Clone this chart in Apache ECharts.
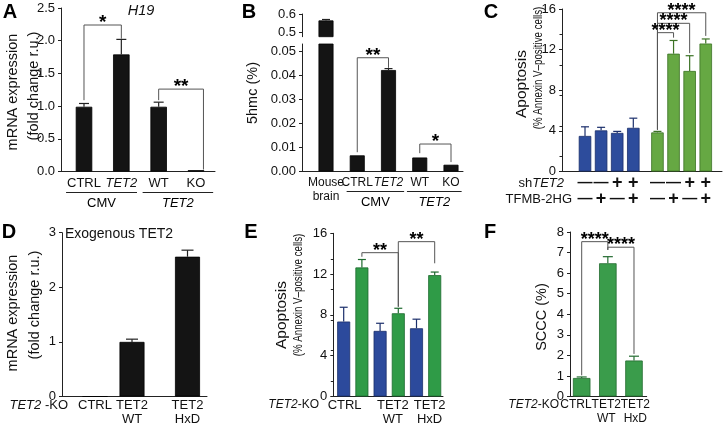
<!DOCTYPE html>
<html><head><meta charset="utf-8">
<script src="https://cdn.jsdelivr.net/npm/echarts@6/dist/echarts.min.js"></script>
<style>html,body{margin:0;padding:0;background:#fff}#c{width:724px;height:440px}</style>
</head><body><div id="c"></div>
<script>
// ---------------- DATA ----------------
// Panel A: H19 mRNA expression
const A_cats = ['CTRL', 'TET2', 'WT', 'KO'];
const A_vals = [0.99, 1.79, 0.99, 0.02];
const A_errTop = [1.04, 2.02, 1.06, 0.02];
const A_groups = [['CMV', -0.48, 1.42], ['TET2', 1.57, 3.46]];
const A_sig = [['*', 0, 1, 2.24, 1.09, 2.03], ['**', 2, 3.2, 1.26, 1.09, 0.03]];
const A_yTicks = [0, 0.5, 1.0, 1.5, 2.0, 2.5];

// Panel B: 5hmc (%)
const B_cats = ['Mouse\nbrain', 'CTRL', 'TET2', 'WT', 'KO'];
const B_vals = [0.565, 0.0067, 0.0421, 0.0058, 0.0028];
const B_errTop = [0.57, 0.0067, 0.0427, 0.0058, 0.0028];
const B_groups = [['CMV', 0.66, 2.5], ['TET2', 2.59, 4.34]];
const B_sig = [['**', 1, 2, 0.0472, 0.008, 0.043], ['*', 3, 4, 0.0114, 0.0076, 0.0039]];
const B_lowTicks = [0, 0.01, 0.02, 0.03, 0.04, 0.05];
const B_upTicks = [0.5, 0.6];

// Panel C: Apoptosis
const C_shTET2 = ['-', '-', '+', '+', '-', '-', '+', '+'];
const C_tfmb = ['-', '+', '-', '+', '-', '+', '-', '+'];
const C_vals = [3.5, 4.05, 3.8, 4.3, 3.85, 11.6, 9.9, 12.6];
const C_errTop = [4.4, 4.35, 3.95, 5.25, 3.95, 12.9, 11.4, 13.05];
const C_colorGroup = ['blue', 'blue', 'blue', 'blue', 'green', 'green', 'green', 'green'];
const C_sig = [['****', 4, 7, 15.63, 4.12, 13.35], ['****', 4, 6, 14.59, 4.12, 11.65], ['****', 4, 5, 13.67, 4.12, 13.18]];
const C_yTicks = [0, 4, 8, 12, 16];

// Panel D: Exogenous TET2
const D_cats = ['CTRL', 'TET2\nWT', 'TET2\nHxD'];
const D_vals = [0, 1.0, 2.56];
const D_errTop = [0, 1.05, 2.68];
const D_yTicks = [0, 1, 2, 3];

// Panel E: Apoptosis
const E_cats = ['CTRL', 'TET2\nWT', 'TET2\nHxD'];
const E_blue = [7.35, 6.43, 6.69];
const E_blueErrTop = [8.75, 7.18, 7.58];
const E_green = [12.65, 8.16, 11.9];
const E_greenErrTop = [13.43, 8.65, 12.2];
const E_sig = [['**', 1, 3, 14.1, 13.7, 8.8], ['**', 3, 5, 15.18, 8.8, 13.06]];
const E_yTicks = [0, 4, 8, 12, 16];

// Panel F: SCCC (%)
const F_cats = ['CTRL', 'TET2\nWT', 'TET2\nHxD'];
const F_vals = [0.9, 6.48, 1.75];
const F_errTop = [0.95, 6.8, 1.96];
const F_sig = [['****', 0, 1, 7.53, 1.03, 7.13], ['****', 1, 2, 7.26, 7.13, 2.07]];
const F_yTicks = [0, 1, 2, 3, 4, 5, 6, 7, 8];

// ---------------- LAYOUT / STYLE ----------------
const FONT = '"Liberation Sans", Arial, Helvetica, sans-serif';
const AXIS = '#222';
const TXT = '#111';
const BLACK = '#141414';
const BLUE_C = '#2d4c9c', BLUE_C_D = '#1b2f6b';
const GREEN_C = '#66a843', GREEN_C_D = '#3b7224';
const BLUE_E = '#2c4a9c', BLUE_E_D = '#1b2f6b';
const GREEN_E = '#2f9b47', GREEN_E_D = '#1d6a2e';
const GREEN_F = '#3a9c4b', GREEN_F_D = '#236b30';

const LAY = {
  A:  {left: 61, top: 8, width: 154, height: 163.5, xmin: -0.616, xmax: 3.509, barW: 16.5, cap: 5},
  Bu: {left: 302, top: 14, width: 161, height: 22.7, xmin: -0.768, xmax: 4.384, barW: 15, cap: 4},
  Bl: {left: 302, top: 44, width: 161, height: 127.5, xmin: -0.768, xmax: 4.384, barW: 15, cap: 4},
  C:  {left: 562, top: 9, width: 160, height: 162.5, xmin: -1.429, xmax: 8.509, barW: 12.5, cap: 4},
  D:  {left: 62, top: 232.7, width: 145, height: 163.8, xmin: -0.892, xmax: 3.027, barW: 25, cap: 6},
  E:  {left: 333.3, top: 233.3, width: 109.7, height: 163.2, xmin: -0.571, xmax: 5.456, barW: 13, cap: 4},
  F:  {left: 570, top: 232, width: 76.7, height: 164.5, xmin: -0.447, xmax: 2.486, barW: 17.5, cap: 5}
};
const cPos = i => i + (i >= 4 ? 0.5 : 0);
const D_pos = [0, 1, 2.5];
const E_labelPos = [0.05, 2.7, 4.72];
const F_labelPos = [-0.22, 0.94, 2.05];

function richSet(size, lh) {
  return {
    n: {fontSize: size, fontFamily: FONT, color: TXT, lineHeight: lh},
    i: {fontSize: size, fontFamily: FONT, color: TXT, fontStyle: 'italic', lineHeight: lh},
    m: {fontSize: 15, fontFamily: FONT, color: TXT, fontWeight: 'bold', lineHeight: 16},
    p: {fontSize: 18, fontFamily: FONT, color: TXT, fontWeight: 'bold', lineHeight: 16}
  };
}
const RICH = richSet(13, 14);
const RICH12 = richSet(12, 13.5);
const gene = s => s.split('\n').map(l => l === 'TET2' ? '{i|TET2}' : '{n|' + l + '}').join('\n');
const plain = s => s.split('\n').map(l => '{n|' + l + '}').join('\n');

const grids = [], xAxes = [], yAxes = [], series = [], graphics = [];

function addPanel(L, yOpt) {
  const gi = grids.length;
  grids.push({left: L.left, top: L.top, width: L.width, height: L.height, containLabel: false});
  xAxes.push({
    type: 'value', gridIndex: gi, min: L.xmin, max: L.xmax,
    axisLine: {show: !yOpt.hideX, onZero: false, lineStyle: {color: AXIS, width: 1}},
    axisTick: {show: false}, splitLine: {show: false},
    axisLabel: {show: false}
  });
  yAxes.push({
    type: 'value', gridIndex: gi, min: yOpt.min, max: yOpt.max,
    axisLine: {show: true, onZero: false, lineStyle: {color: AXIS, width: 1}},
    axisTick: {show: true, length: 3, lineStyle: {color: AXIS}, customValues: yOpt.ticks},
    minorTick: {show: !!yOpt.minor, splitNumber: 2, length: 2.5, lineStyle: {color: AXIS}},
    splitLine: {show: false},
    axisLabel: {
      customValues: yOpt.ticks, fontSize: 13, fontFamily: FONT, color: TXT, margin: 6,
      showMinLabel: true, showMaxLabel: true,
      formatter: v => yOpt.fmt(v)
    }
  });
  return gi;
}

// category labels drawn under the axis at the axis' own data positions
function xLabels(gi, yBase, positions, texts, offY, rich) {
  series.push({
    type: 'custom', xAxisIndex: gi, yAxisIndex: gi, clip: false, silent: true,
    data: positions.map(p => [p, yBase]),
    renderItem(params, api) {
      const p = api.coord([api.value(0), api.value(1)]);
      return {type: 'text', x: p[0], y: p[1] + offY, style: {
        text: texts[params.dataIndex], rich: rich || RICH, font: '13px ' + FONT, fill: TXT,
        align: 'center', verticalAlign: 'top', textAlign: 'center', textVerticalAlign: 'top'}};
    }
  });
}

function bars(gi, L, xs, vals, colors, borders) {
  series.push({
    type: 'bar', xAxisIndex: gi, yAxisIndex: gi, barWidth: L.barW, silent: true,
    data: xs.map((x, k) => ({value: [x, vals[k]], itemStyle: {color: colors[k], borderColor: borders[k], borderWidth: 0.8}}))
  });
}

function errs(gi, L, xs, vals, tops, colors) {
  series.push({
    type: 'custom', xAxisIndex: gi, yAxisIndex: gi, clip: false, silent: true, z: 5,
    data: xs.map((x, k) => [x, vals[k], tops[k]]),
    renderItem(params, api) {
      const k = params.dataIndex;
      if (api.value(2) <= api.value(1)) return null;
      const p0 = api.coord([api.value(0), api.value(1)]);
      const p1 = api.coord([api.value(0), api.value(2)]);
      const c = colors[k];
      return {type: 'group', children: [
        {type: 'line', shape: {x1: p0[0], y1: p0[1], x2: p1[0], y2: p1[1]}, style: {stroke: c, lineWidth: 1.2}},
        {type: 'line', shape: {x1: p1[0] - L.cap, y1: p1[1], x2: p1[0] + L.cap, y2: p1[1]}, style: {stroke: c, lineWidth: 1.2}}
      ]};
    }
  });
}

function sigs(gi, list, posFn, starSize) {
  series.push({
    type: 'custom', xAxisIndex: gi, yAxisIndex: gi, clip: false, silent: true, z: 6,
    data: list.map(s => [posFn(s[1]), posFn(s[2]), s[3], s[4], s[5]]),
    renderItem(params, api) {
      const s = list[params.dataIndex];
      const x1 = api.value(0), x2 = api.value(1), y = api.value(2);
      const p1 = api.coord([x1, api.value(3)]), p2 = api.coord([x1, y]);
      const p3 = api.coord([x2, y]), p4 = api.coord([x2, api.value(4)]);
      return {type: 'group', children: [
        {type: 'polyline', shape: {points: [p1, p2, p3, p4]}, style: {stroke: '#555', lineWidth: 1, fill: null}},
        {type: 'text', x: (p2[0] + p3[0]) / 2, y: p2[1] - 2, style: {
          text: s[0], font: 'bold ' + starSize + 'px ' + FONT, fill: '#000',
          align: 'center', verticalAlign: 'middle', textAlign: 'center', textVerticalAlign: 'middle'}}
      ]};
    }
  });
}

function groupsUnder(gi, list, lineOff, textOff) {
  series.push({
    type: 'custom', xAxisIndex: gi, yAxisIndex: gi, clip: false, silent: true,
    data: list.map(g => [g[1], g[2]]),
    renderItem(params, api) {
      const g = list[params.dataIndex];
      const a = api.coord([api.value(0), 0]), b = api.coord([api.value(1), 0]);
      return {type: 'group', children: [
        {type: 'line', shape: {x1: a[0], y1: a[1] + lineOff, x2: b[0], y2: b[1] + lineOff}, style: {stroke: '#222', lineWidth: 1}},
        {type: 'text', x: (a[0] + b[0]) / 2, y: a[1] + textOff, style: {
          text: gene(g[0]), rich: RICH, align: 'center', verticalAlign: 'middle', textAlign: 'center', textVerticalAlign: 'middle'}}
      ]};
    }
  });
}

function txt(x, y, text, font, extra) {
  graphics.push({type: 'text', x, y, silent: true, style: Object.assign({
    text, font, fill: TXT, align: 'center', verticalAlign: 'middle', textAlign: 'center', textVerticalAlign: 'middle'}, extra || {})});
}
function vtxt(x, y, text, size, scaleX) {
  graphics.push({type: 'text', x, y, rotation: Math.PI / 2, scaleX: scaleX || 1, silent: true, style: {
    text, font: size + 'px ' + FONT, fill: TXT, align: 'center', verticalAlign: 'middle', textAlign: 'center', textVerticalAlign: 'middle'}});
}

// ---------------- PANEL A ----------------
const aX = A_cats.map((c, i) => i);
const gA = addPanel(LAY.A, {min: 0, max: 2.5, ticks: A_yTicks, fmt: v => v.toFixed(1)});
bars(gA, LAY.A, aX, A_vals, aX.map(() => BLACK), aX.map(() => '#000'));
errs(gA, LAY.A, aX, A_vals, A_errTop, aX.map(() => '#222'));
sigs(gA, A_sig, v => v, 19);
xLabels(gA, 0, aX, A_cats.map(gene), 4.5);
groupsUnder(gA, A_groups, 21, 32);

// ---------------- PANEL B ----------------
const bX = B_cats.map((c, i) => i);
const gBu = addPanel(LAY.Bu, {min: 0.476, max: 0.6, ticks: B_upTicks, fmt: v => v.toFixed(1), hideX: true});
bars(gBu, LAY.Bu, [0], [B_vals[0]], [BLACK], ['#000']);
errs(gBu, LAY.Bu, [0], [B_vals[0]], [B_errTop[0]], ['#222']);
const gBl = addPanel(LAY.Bl, {min: 0, max: 0.0529, ticks: B_lowTicks, fmt: v => v.toFixed(2)});
bars(gBl, LAY.Bl, bX, B_vals, bX.map(() => BLACK), bX.map(() => '#000'));
errs(gBl, LAY.Bl, bX.slice(1), B_vals.slice(1), B_errTop.slice(1), bX.map(() => '#222'));
sigs(gBl, B_sig, v => v, 19);
xLabels(gBl, 0, bX, B_cats.map(gene), 4.5, RICH12);
groupsUnder(gBl, B_groups, 20, 31);

// ---------------- PANEL C ----------------
const cX = C_vals.map((v, i) => cPos(i));
const sign = s => s === '+' ? '{p|+}' : '{m|—}';
const gC = addPanel(LAY.C, {min: 0, max: 16, ticks: C_yTicks, fmt: v => String(v), minor: true});
bars(gC, LAY.C, cX, C_vals, C_colorGroup.map(g => g === 'blue' ? BLUE_C : GREEN_C), C_colorGroup.map(g => g === 'blue' ? BLUE_C_D : GREEN_C_D));
errs(gC, LAY.C, cX, C_vals, C_errTop, C_colorGroup.map(g => g === 'blue' ? BLUE_C_D : GREEN_C_D));
sigs(gC, C_sig, cPos, 18);
xLabels(gC, 0, cX, C_vals.map((v, i) => sign(C_shTET2[i]) + '\n' + sign(C_tfmb[i])), 3.5);

// ---------------- PANEL D ----------------
const gD = addPanel(LAY.D, {min: 0, max: 3, ticks: D_yTicks, fmt: v => String(v)});
bars(gD, LAY.D, D_pos, D_vals, D_pos.map(() => BLACK), D_pos.map(() => '#000'));
errs(gD, LAY.D, D_pos, D_vals, D_errTop, D_pos.map(() => '#222'));
xLabels(gD, 0, D_pos, D_cats.map(plain), 1.5);

// ---------------- PANEL E ----------------
const eX = [0, 1, 2, 3, 4, 5];
const eVals = [], eTops = [], eCol = [], eColD = [];
E_cats.forEach((c, i) => {
  eVals.push(E_blue[i], E_green[i]); eTops.push(E_blueErrTop[i], E_greenErrTop[i]);
  eCol.push(BLUE_E, GREEN_E); eColD.push(BLUE_E_D, GREEN_E_D);
});
const gE = addPanel(LAY.E, {min: 0, max: 16, ticks: E_yTicks, fmt: v => String(v), minor: true});
bars(gE, LAY.E, eX, eVals, eCol, eColD);
errs(gE, LAY.E, eX, eVals, eTops, eColD);
sigs(gE, E_sig, v => v, 18);
xLabels(gE, 0, E_labelPos, E_cats.map(plain), 1.5);

// ---------------- PANEL F ----------------
const fX = F_vals.map((v, i) => i);
const gF = addPanel(LAY.F, {min: 0, max: 8, ticks: F_yTicks, fmt: v => String(v)});
bars(gF, LAY.F, fX, F_vals, fX.map(() => GREEN_F), fX.map(() => GREEN_F_D));
errs(gF, LAY.F, fX, F_vals, F_errTop, fX.map(() => GREEN_F_D));
sigs(gF, F_sig, v => v, 18);
xLabels(gF, 0, F_labelPos, F_cats.map(plain), 1.5, RICH12);

// ---------------- TEXT ----------------
const LETTER = 'bold 20px ' + FONT;
txt(10, 12, 'A', LETTER, {fill: '#000'});
txt(249, 12, 'B', LETTER, {fill: '#000'});
txt(491, 12, 'C', LETTER, {fill: '#000'});
txt(9, 232, 'D', LETTER, {fill: '#000'});
txt(251, 232, 'E', LETTER, {fill: '#000'});
txt(490, 232, 'F', LETTER, {fill: '#000'});
txt(141, 11, 'H19', 'italic 14.5px ' + FONT);
txt(119, 234, 'Exogenous TET2', '14px ' + FONT);

vtxt(13, 92, 'mRNA expression', 14.5);
vtxt(34, 86, '(fold change r.u.)', 14.5);
vtxt(253, 93, '5hmc (%)', 14.5);
vtxt(522, 84, 'Apoptosis', 15.5);
vtxt(538, 68, '(% Annexin V\u2013positive cells)', 13.5, 0.72);
vtxt(13, 313, 'mRNA expression', 14.5);
vtxt(35, 305, '(fold change r.u.)', 14.5);
vtxt(282, 315, 'Apoptosis', 15.5);
vtxt(298, 295, '(% Annexin V\u2013positive cells)', 13.5, 0.72);
vtxt(542, 317, 'SCCC (%)', 14.5);

const ALIGN_R = {align: 'right', textAlign: 'right', rich: RICH};
const ALIGN_R12 = {align: 'right', textAlign: 'right', rich: RICH12};
txt(564, 183, 'sh{i|TET2}', '13px ' + FONT, ALIGN_R);
txt(572, 199, '{n|TFMB-2HG}', '13px ' + FONT, ALIGN_R);
txt(68, 405, '{i|TET2}{n| -KO}', '13px ' + FONT, ALIGN_R);
txt(319, 405, '{i|TET2}{n|-KO}', '12px ' + FONT, ALIGN_R12);
txt(559, 405, '{i|TET2}{n|-KO}', '12px ' + FONT, ALIGN_R12);

const chart = echarts.init(document.getElementById('c'), null, {renderer: 'canvas', width: 724, height: 440});
chart.setOption({
  animation: false,
  grid: grids, xAxis: xAxes, yAxis: yAxes, series: series, graphic: {elements: graphics}
});
</script></body></html>
